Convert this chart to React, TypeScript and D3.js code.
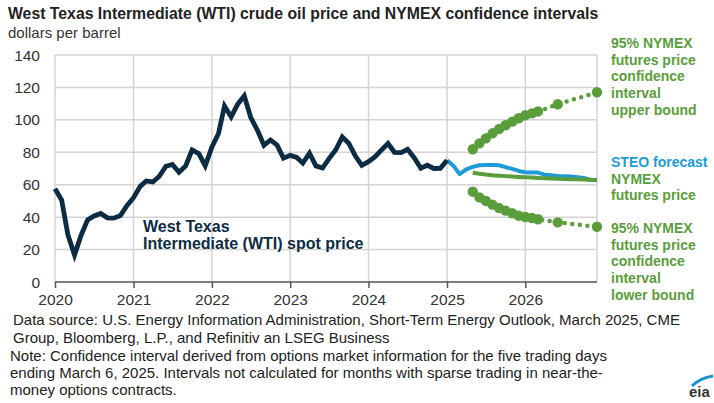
import React, { useRef, useEffect } from 'react';
import * as d3 from 'd3';

// monthly WTI spot, Jan 2020 - Jan 2025
const wtiSpot = [
  57.5, 50.5, 29.2, 16.6, 28.6, 38.3, 40.7, 42.3, 39.6, 39.4, 41.0, 47.0,
  52.0, 59.0, 62.3, 61.7, 65.2, 71.4, 72.5, 67.7, 71.6, 81.5, 79.2, 71.7,
  83.2, 91.6, 108.5, 101.8, 109.6, 114.8, 101.6, 93.7, 84.3, 87.6, 84.4, 76.4,
  78.1, 76.8, 73.3, 79.4, 71.6, 70.3, 76.1, 81.4, 89.4, 85.6, 77.7, 71.9,
  74.2, 77.3, 81.3, 85.4, 80.0, 79.8, 81.8, 76.7, 70.2, 72.0, 70.0, 70.1,
  75.1,
];
// STEO forecast, Jan 2025 - Dec 2026
const steoForecast = [
  75.1, 71.5, 66.5, 69.5, 71.0, 72.0, 72.2, 72.2, 72.0, 70.8, 69.8, 68.5,
  67.7, 67.5, 67.5, 66.2, 65.8, 65.4, 65.2, 65.0, 64.6, 64.2, 63.0, 62.8,
];
// NYMEX futures and 95% bounds, May 2025 - Dec 2026
const nymexFutures = [
  67.4, 66.8, 66.3, 65.9, 65.6, 65.3, 65.0, 64.8, 64.6, 64.4,
  64.2, 64.0, 63.8, 63.7, 63.5, 63.4, 63.3, 63.2, 63.0, 62.9,
];
const upperBound: (number | null)[] = [
  81.9, 85.5, 88.6, 91.7, 94.4, 96.7, 98.9, 101.0, 102.8, 104.0,
  105.2, null, null, 109.6, null, null, null, null, null, 117.0,
];
const lowerBound: (number | null)[] = [
  55.7, 52.2, 50.0, 47.7, 45.6, 44.0, 42.4, 40.9, 40.1, 39.5,
  38.7, null, null, 36.8, null, null, null, null, null, 34.1,
];
const yTicks = [0, 20, 40, 60, 80, 100, 120, 140];
const yearTicks = [2020, 2021, 2022, 2023, 2024, 2025, 2026];

const noteLines = [
  'Data source: U.S. Energy Information Administration, Short-Term Energy Outlook, March 2025, CME',
  'Group, Bloomberg, L.P., and Refinitiv an LSEG Business',
  'Note: Confidence interval derived from options market information for the five trading days',
  'ending March 6, 2025. Intervals not calculated for months with sparse trading in near-the-',
  'money options contracts.',
];

const NAVY = '#0c2c44';
const BLUE = '#1f9ad8';
const GREEN = '#5a9e3c';

const month = (start: Date, i: number) => new Date(start.getFullYear(), start.getMonth() + i, 1);

const App: React.FC = () => {
  const svgRef = useRef<SVGSVGElement>(null);
  const width = 714;
  const height = 403;

  useEffect(() => {
    if (!svgRef.current) return;
    const svg = d3.select(svgRef.current);
    svg.selectAll('*').remove();

    const left = 55, right = 597, top = 55, bottom = 282;
    const x = d3.scaleTime().domain([new Date(2020, 0, 1), new Date(2026, 11, 1)]).range([left, right]);
    const y = d3.scaleLinear().domain([0, 140]).range([bottom, top]);
    const font = 'Arial, "Liberation Sans", sans-serif';
    const narrow = '"Liberation Sans Narrow", "Arial Narrow", Arial, sans-serif';

    // title
    svg.append('text').attr('x', 8).attr('y', 19)
      .style('font-family', font).style('font-weight', 'bold').style('font-size', '15.8px').style('fill', '#222')
      .text('West Texas Intermediate (WTI) crude oil price and NYMEX confidence intervals');
    svg.append('text').attr('x', 8).attr('y', 38)
      .style('font-family', font).style('font-size', '15px').style('fill', '#333')
      .text('dollars per barrel');

    // gridlines
    svg.append('g').selectAll('line').data(yTicks.filter(d => d > 0)).enter().append('line')
      .attr('x1', left).attr('x2', right).attr('y1', d => y(d)).attr('y2', d => y(d))
      .attr('stroke', '#d4d4d4').attr('stroke-width', 1.5);
    svg.append('g').selectAll('line').data([...yearTicks, 2027]).enter().append('line')
      .attr('x1', d => Math.min(x(new Date(d, 0, 1)), right)).attr('x2', d => Math.min(x(new Date(d, 0, 1)), right))
      .attr('y1', top).attr('y2', bottom)
      .attr('stroke', '#d4d4d4').attr('stroke-width', 1.5);

    // y axis labels
    svg.append('g').selectAll('text').data(yTicks).enter().append('text')
      .attr('x', 40).attr('y', d => y(d) + 5.5).attr('text-anchor', 'end')
      .style('font-family', font).style('font-size', '15.5px').style('fill', '#333')
      .text(d => d);

    // x axis
    const xAxis = d3.axisBottom(x)
      .tickValues(yearTicks.map(d => new Date(d, 0, 1)))
      .tickFormat(d3.timeFormat('%Y') as any)
      .tickSizeInner(6).tickSizeOuter(0).tickPadding(6);
    const gx = svg.append('g').attr('transform', `translate(0,${bottom})`).call(xAxis);
    gx.select('.domain').attr('stroke', '#555').attr('stroke-width', 1.5).attr('d', `M${left},0H${right}`);
    gx.selectAll('.tick line').attr('stroke', '#555').attr('stroke-width', 1.5);
    gx.selectAll('.tick text').style('font-family', font).style('font-size', '15.5px').style('fill', '#333');

    const lineGen = d3.line<{ date: Date; v: number | null }>()
      .defined(d => d.v != null)
      .x(d => x(d.date)).y(d => y(d.v as number));

    const spot = wtiSpot.map((v, i) => ({ date: month(new Date(2020, 0, 1), i), v }));
    const steo = steoForecast.map((v, i) => ({ date: month(new Date(2025, 0, 1), i), v }));
    const fut = nymexFutures.map((v, i) => ({ date: month(new Date(2025, 4, 1), i), v }));
    const up = upperBound.map((v, i) => ({ date: month(new Date(2025, 4, 1), i), v }));
    const lo = lowerBound.map((v, i) => ({ date: month(new Date(2025, 4, 1), i), v }));

    // bounds: dotted connectors + markers
    [up, lo].forEach(series => {
      const pts = series.filter(d => d.v != null);
      svg.append('path').datum(pts).attr('d', lineGen as any)
        .attr('fill', 'none').attr('stroke', GREEN).attr('stroke-width', 4.5)
        .attr('stroke-linecap', 'round').attr('stroke-dasharray', '0 7.6');
      svg.append('g').selectAll('circle').data(pts).enter().append('circle')
        .attr('cx', d => x(d.date)).attr('cy', d => y(d.v as number)).attr('r', 5.2)
        .attr('fill', GREEN);
    });

    svg.append('path').datum(steo).attr('d', lineGen as any)
      .attr('fill', 'none').attr('stroke', BLUE).attr('stroke-width', 4).attr('stroke-linejoin', 'round');
    svg.append('path').datum(fut).attr('d', lineGen as any)
      .attr('fill', 'none').attr('stroke', GREEN).attr('stroke-width', 4).attr('stroke-linejoin', 'round');
    svg.append('path').datum(spot).attr('d', lineGen as any)
      .attr('fill', 'none').attr('stroke', NAVY).attr('stroke-width', 4.8).attr('stroke-linejoin', 'miter');

    // in-chart label
    const lab = svg.append('text').style('font-family', font).style('font-weight', 'bold')
      .style('font-size', '16px').style('fill', NAVY);
    lab.append('tspan').attr('x', 143).attr('y', 232).text('West Texas');
    lab.append('tspan').attr('x', 143).attr('y', 249).text('Intermediate (WTI) spot price');

    // right labels
    const rightLabel = (lines: { t: string; c: string }[], y0: number) => {
      const t = svg.append('text').style('font-family', font).style('font-weight', 'bold').style('font-size', '14px');
      lines.forEach((l, i) => t.append('tspan').attr('x', 611).attr('y', y0 + i * 16.7).style('fill', l.c).text(l.t));
    };
    rightLabel(['95% NYMEX', 'futures price', 'confidence', 'interval', 'upper bound'].map(t => ({ t, c: GREEN })), 48);
    rightLabel([{ t: 'STEO forecast', c: BLUE }, { t: 'NYMEX', c: GREEN }, { t: 'futures price', c: GREEN }], 167);
    rightLabel(['95% NYMEX', 'futures price', 'confidence', 'interval', 'lower bound'].map(t => ({ t, c: GREEN })), 233);

    // notes
    svg.append('g').selectAll('text').data(noteLines).enter().append('text')
      .attr('x', (d, i) => (i < 2 ? 13 : 10)).attr('y', (d, i) => [325, 343, 361, 378, 395][i])
      .style('font-family', narrow).style('font-size', '15px').style('fill', '#222')
      .text(d => d);

    // logo fragment
    svg.append('path').attr('d', 'M692,386 Q700,378 713,376')
      .attr('fill', 'none').attr('stroke', '#1a8fd6').attr('stroke-width', 3);
    svg.append('text').attr('x', 689).attr('y', 397)
      .style('font-family', font).style('font-weight', 'bold').style('font-size', '15px').style('fill', '#333')
      .text('eia');
  }, []);

  return (
    <svg ref={svgRef} width={width} height={height}
      style={{ position: 'absolute', left: 0, top: 0, background: '#fff' }} />
  );
};

export default App;
